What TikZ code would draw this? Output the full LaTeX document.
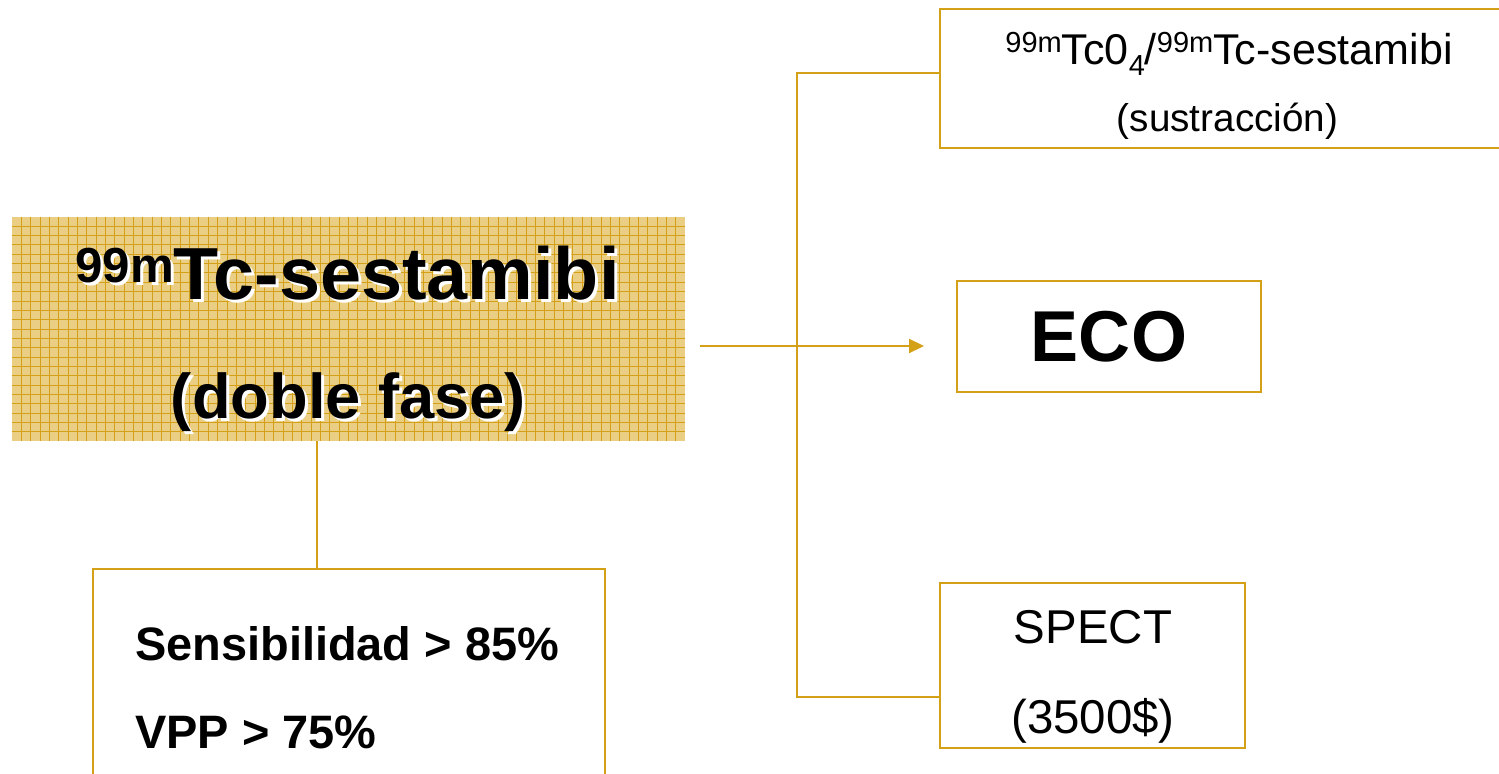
\documentclass[tikz,border=0pt]{standalone}
\usepackage{fontspec}
\setmainfont{Liberation Sans}
\usetikzlibrary{arrows.meta}

\definecolor{gold}{RGB}{212,160,23}
\definecolor{sand}{RGB}{233,206,132}

% white drop shadow behind bold titles
\newcommand{\shadowed}[1]{\makebox[0pt][l]{\hspace{1.7pt}\raisebox{-1.7pt}{\color{white}#1}}#1}
\newcommand{\iso}[1]{\raisebox{7.2pt}{\fontsize{16.5}{16.5}\selectfont #1}}

\begin{document}
\begin{tikzpicture}[box/.style={rectangle, draw=gold, line width=1.1pt, inner sep=0pt},gridbox/.style={rectangle, fill=sand, inner sep=0pt, path picture={\draw[gold, line width=0.5pt, step=0.187] (path picture bounding box.south west) grid (path picture bounding box.north east);}},link/.style={draw=gold, line width=1.1pt},plain/.style={anchor=base, font=\fontsize{27}{27}\selectfont}]
	\useasboundingbox (0,0) rectangle (29.98,-15.48);

	% boxes
	\node[gridbox, minimum width=13.46cm, minimum height=4.48cm] (main) at (6.97,-6.58) {};
	\node[box, minimum width=10.24cm, minimum height=4.6cm] (facts) at (6.98,-13.68) {};
	\node[box, minimum width=11.6cm, minimum height=2.78cm] (sub) at (24.6,-1.57) {};
	\node[box, minimum width=6.08cm, minimum height=2.22cm, font=\bfseries\fontsize{41}{41}\selectfont] (eco) at (22.18,-6.73) {\raisebox{-3.4pt}{ECO}};
	\node[box, minimum width=6.1cm, minimum height=3.3cm] (spect) at (21.85,-13.31) {};

	% texts
	\node[anchor=base, font=\bfseries\fontsize{42}{42}\selectfont] (title) at (6.95,-6.0) {\shadowed{\raisebox{10pt}{\fontsize{28}{28}\selectfont 99m}Tc-sestamibi}};
	\node[anchor=base, font=\bfseries\fontsize{36}{36}\selectfont] (phase) at (6.97,-8.38) {\shadowed{(doble fase)}};
	\node[anchor=base west, font=\bfseries\fontsize{26.7}{26.7}\selectfont] (sens) at (2.58,-13.2) {Sensibilidad > 85\%};
	\node[anchor=base west, font=\bfseries\fontsize{26.7}{26.7}\selectfont] (vpp) at (2.58,-14.96) {VPP > 75\%};
	\node[anchor=base, font=\fontsize{24.5}{24.5}\selectfont] (tracer) at (24.58,-1.3) {\iso{99m}Tc0\raisebox{-6pt}{\fontsize{16.5}{16.5}\selectfont 4}/\iso{99m}Tc-sestamibi};
	\node[anchor=base, font=\fontsize{22}{22}\selectfont] (subtr) at (24.55,-2.64) {(sustracción)};
	\node[plain] (spname) at (21.86,-12.86) {SPECT};
	\node[plain] (cost) at (21.86,-14.66) {(3500\$)};

	% edges
	\coordinate (stem) at (6.34,0);
	\coordinate (split) at (15.94,-6.92);
	\coordinate (forktop) at (15.94,-1.46);
	\coordinate (forkbot) at (15.94,-13.94);
	\draw[link] (stem |- main.south) -- (stem |- facts.north);
	\draw[link, -{Triangle[length=0.3cm, width=0.28cm]}] ([xshift=0.3cm]main.east |- split) -- ([xshift=-0.64cm]eco.west |- split);
	\draw[link] (sub.west |- forktop) -- (forktop) -- (forkbot) -- (spect.west |- forkbot);
\end{tikzpicture}
\end{document}
